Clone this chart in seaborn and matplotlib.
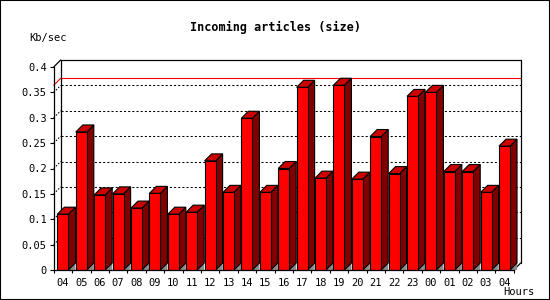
import matplotlib
matplotlib.use("Agg")
import matplotlib.pyplot as plt
import seaborn as sns
import pandas as pd
from matplotlib.patches import Polygon, Rectangle
from matplotlib.lines import Line2D
from matplotlib.ticker import FixedLocator, FixedFormatter, NullFormatter

# ---- data ----
hours = ["04", "05", "06", "07", "08", "09", "10", "11", "12", "13", "14", "15",
         "16", "17", "18", "19", "20", "21", "22", "23", "00", "01", "02", "03", "04"]
kbps = [0.110, 0.272, 0.148, 0.150, 0.122, 0.151, 0.110, 0.114, 0.215, 0.153,
        0.299, 0.153, 0.200, 0.360, 0.181, 0.364, 0.179, 0.263, 0.190, 0.342,
        0.350, 0.194, 0.194, 0.153, 0.244]
y_ticks = [0, 0.05, 0.1, 0.15, 0.2, 0.25, 0.3, 0.35, 0.4]
y_tick_labels = ["0", "0.05", "0.1", "0.15", "0.2", "0.25", "0.3", "0.35", "0.4"]
title = "Incoming articles (size)"
y_label = "Kb/sec"
x_label = "Hours"

sns.set_theme(style="white")
plt.rcParams["font.family"] = ["DejaVu Sans Mono", "DejaVu Sans"]

W, H = 550, 300
fig = plt.figure(figsize=(W / 100, H / 100), dpi=100)
fig.patch.set_facecolor("white")

# front plane of the 3D plot (pixels)
left_px, right_px = 53.7, 513.7
bottom_px, top_px = 270, 67
ax = fig.add_axes([left_px / W, (H - bottom_px) / H,
                   (right_px - left_px) / W, (bottom_px - top_px) / H])
ax.set_facecolor("none")

df = pd.DataFrame({"pos": list(range(len(kbps))), "kbps": kbps})
sns.barplot(data=df, x="pos", y="kbps", color="#ff0000", saturation=1,
            width=0.6, edgecolor="black", linewidth=0.8, ax=ax, zorder=3)

n = len(kbps)
ax.set_xlim(-0.5, n - 0.5)
ax.set_ylim(0, 0.4)

# depth offsets (7 px) converted to data units
ppx = (right_px - left_px) / n
ppy = (bottom_px - top_px) / 0.4
dx, dy = 7 / ppx, 7 / ppy

# 3D faces for each bar
for p in list(ax.patches):
    x0, w, h = p.get_x(), p.get_width(), p.get_height()
    x1 = x0 + w
    floor = Polygon([(x1, 0), (x1 + dx, dy), (x1 + dx, 0)], closed=True,
                    facecolor="#8c8c8c", edgecolor="none",
                    zorder=2.5, clip_on=False)
    side = Polygon([(x1, 0), (x1, h), (x1 + dx, h + dy), (x1 + dx, dy)], closed=True,
                   facecolor="#800000", edgecolor="black", linewidth=0.8,
                   zorder=2.8, clip_on=False)
    top = Polygon([(x0, h), (x1, h), (x1 + dx, h + dy), (x0 + dx, h + dy)], closed=True,
                  facecolor="#cc0000", edgecolor="black", linewidth=0.8,
                  zorder=2.8, clip_on=False)
    for poly in (floor, side, top):
        ax.add_patch(poly)

xl, xr = -0.5, n - 0.5
ymax = 0.4

def seg(xs, ys, **kw):
    ln = Line2D(xs, ys, clip_on=False, **kw)
    ax.add_line(ln)

# dotted grid on back plane with diagonal stubs
for yt in y_ticks[1:-1]:
    seg([xl + dx, xr + dx], [yt + dy, yt + dy], color="black", lw=0.75,
        linestyle=(0, (2, 2)), zorder=1)
    seg([xl, xl + dx], [yt, yt + dy], color="black", lw=0.75,
        linestyle=(0, (1.5, 1.5)), zorder=1)

# max line (red)
vmax = max(kbps)
seg([xl + dx, xr + dx], [vmax + dy, vmax + dy], color="#ff0000", lw=0.8, zorder=1.2)
seg([xl, xl + dx], [vmax, vmax + dy], color="#ff0000", lw=0.8, zorder=1.2)

# back plane frame
frame_kw = dict(color="black", lw=0.9, zorder=1.5)
seg([xl + dx, xr + dx], [ymax + dy, ymax + dy], **frame_kw)
seg([xl + dx, xl + dx], [dy, ymax + dy], **frame_kw)
seg([xr + dx, xr + dx], [dy, ymax + dy], **frame_kw)
seg([xl, xl + dx], [ymax, ymax + dy], **frame_kw)
seg([xr, xr + dx], [0, dy], **frame_kw)

# spines
for s in ("top", "right"):
    ax.spines[s].set_visible(False)
for s in ("left", "bottom"):
    ax.spines[s].set_color("black")
    ax.spines[s].set_linewidth(0.9)
    ax.spines[s].set_zorder(4)

# ticks
ax.yaxis.set_major_locator(FixedLocator(y_ticks))
ax.yaxis.set_major_formatter(FixedFormatter(y_tick_labels))
ax.tick_params(axis="y", which="major", direction="out", length=3, width=0.8,
               color="black", pad=2, labelsize=7.5, labelcolor="black", left=True)

ax.xaxis.set_major_locator(FixedLocator(list(range(n))))
ax.xaxis.set_major_formatter(FixedFormatter(hours))
ax.xaxis.set_minor_locator(FixedLocator([i - 0.5 for i in range(n + 1)]))
ax.xaxis.set_minor_formatter(NullFormatter())
ax.tick_params(axis="x", which="major", length=0, pad=6, labelsize=7.5,
               labelcolor="black")
ax.tick_params(axis="x", which="minor", direction="out", length=2.5, width=0.8,
               color="black", bottom=True)
ax.set_xlabel("")
ax.set_ylabel("")

# texts
fig.text(275 / W, 1 - 27 / H, title, ha="center", va="center",
         fontsize=8.5, fontweight="bold", color="black")
fig.text(29 / W, 1 - 38 / H, y_label, ha="left", va="center",
         fontsize=7.5, color="black")
fig.text(534 / W, 1 - 292 / H, x_label, ha="right", va="center",
         fontsize=7.5, color="black")

# image border
fig.add_artist(Rectangle((0, 0), 1, 1, transform=fig.transFigure, fill=False,
                         edgecolor="black", linewidth=1.5))

fig.savefig("out.png", dpi=100)
